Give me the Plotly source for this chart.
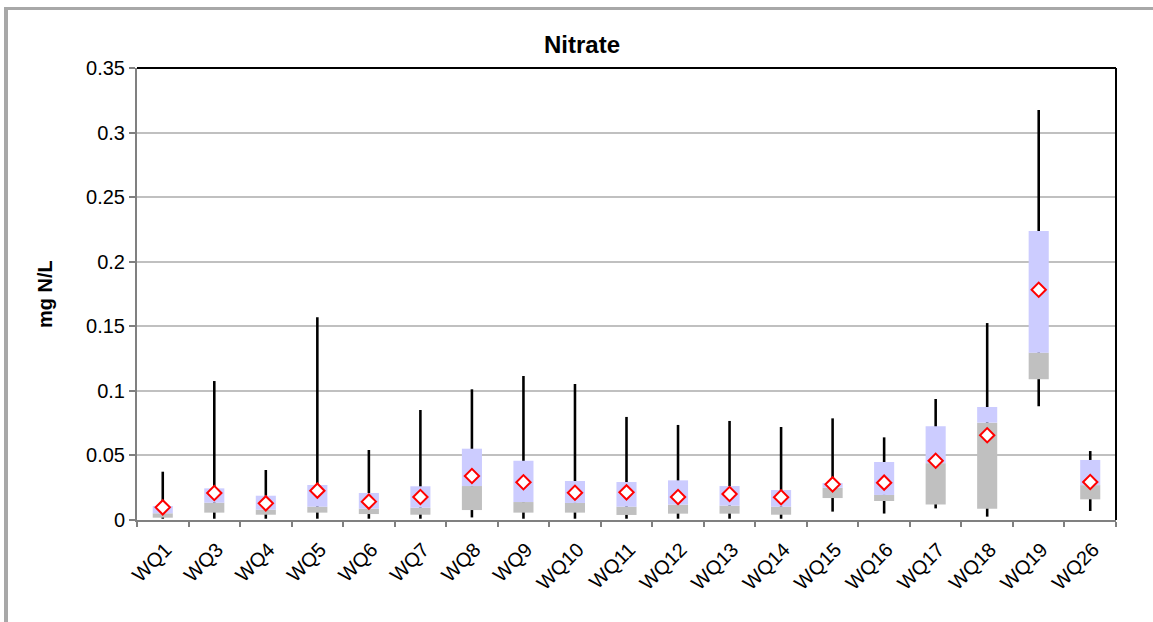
import plotly.graph_objects as go

# Nitrate summary statistics per monitoring site (mg N/L)
sites = ["WQ1", "WQ3", "WQ4", "WQ5", "WQ6", "WQ7", "WQ8", "WQ9", "WQ10", "WQ11",
         "WQ12", "WQ13", "WQ14", "WQ15", "WQ16", "WQ17", "WQ18", "WQ19", "WQ26"]
minimum = [0.001, 0.001, 0.001, 0.001, 0.001, 0.001, 0.002, 0.001, 0.001, 0.001,
           0.001, 0.001, 0.001, 0.0065, 0.005, 0.009, 0.0026, 0.088, 0.007]
q1 = [0.0018, 0.0057, 0.0041, 0.0057, 0.0046, 0.0041, 0.0077, 0.0057, 0.0057, 0.0039,
      0.0049, 0.0049, 0.0041, 0.017, 0.0147, 0.012, 0.0088, 0.109, 0.016]
median = [0.0052, 0.0134, 0.008, 0.0103, 0.0088, 0.0095, 0.0263, 0.0139, 0.0132, 0.0103,
          0.0119, 0.0111, 0.0103, 0.025, 0.0194, 0.044, 0.0754, 0.1296, 0.027]
q3 = [0.0108, 0.0245, 0.0188, 0.0271, 0.0209, 0.0261, 0.0552, 0.0459, 0.0302, 0.0294,
      0.0307, 0.0263, 0.0232, 0.0286, 0.0449, 0.0726, 0.0875, 0.2238, 0.0465]
maximum = [0.0374, 0.1076, 0.0387, 0.157, 0.0542, 0.0852, 0.1012, 0.1115, 0.1053, 0.0798,
           0.0736, 0.0767, 0.072, 0.0787, 0.064, 0.0937, 0.1525, 0.3175, 0.0534]
mean = [0.0098, 0.0209, 0.0129, 0.0227, 0.0142, 0.0178, 0.0341, 0.0292, 0.0211, 0.0214,
        0.0178, 0.0201, 0.0176, 0.0276, 0.0289, 0.0459, 0.0656, 0.1783, 0.0294]

y_ticks = [0, 0.05, 0.1, 0.15, 0.2, 0.25, 0.3, 0.35]

FONT = "Liberation Sans, Arial, sans-serif"

fig = go.Figure()

# whiskers (min to max) drawn as thin bars so the boxes sit on top of them
fig.add_trace(go.Bar(
    x=sites, y=[hi - lo for lo, hi in zip(minimum, maximum)], base=minimum,
    width=0.05, marker=dict(color="black", line=dict(width=0)),
    hoverinfo="skip", showlegend=False))

# lower box: Q1 to median
fig.add_trace(go.Bar(
    x=sites, y=[m - a for a, m in zip(q1, median)], base=q1,
    width=0.39, marker=dict(color="#c0c0c0", line=dict(width=0)),
    hoverinfo="skip", showlegend=False))

# upper box: median to Q3
fig.add_trace(go.Bar(
    x=sites, y=[b - m for m, b in zip(median, q3)], base=median,
    width=0.39, marker=dict(color="#ccccff", line=dict(width=0)),
    hoverinfo="skip", showlegend=False))

# mean markers
fig.add_trace(go.Scatter(
    x=sites, y=mean, mode="markers",
    marker=dict(symbol="diamond", size=11, color="white",
                line=dict(color="#ff0000", width=2)),
    hoverinfo="skip", showlegend=False))

L, R, T, B = 137, 37, 68, 102
W, H = 1153, 622
pw, ph = W - L - R, H - T - B


def px_x(p):
    return (p - L) / pw


def px_y(p):
    return (H - B - p) / ph


fig.update_layout(
    width=W, height=H,
    margin=dict(l=L, r=R, t=T, b=B),
    paper_bgcolor="white", plot_bgcolor="white",
    barmode="overlay",
    font=dict(family=FONT, size=20, color="black"),
    showlegend=False,
    xaxis=dict(
        type="category", tickangle=-45, tickson="boundaries",
        range=[-0.5, len(sites) - 0.5],
        showline=True, linecolor="#808080", linewidth=2,
        ticks="outside", ticklen=5, tickwidth=2, tickcolor="#808080",
        ticklabelstandoff=8, ticklabelshift=3,
        showgrid=False, zeroline=False,
        tickfont=dict(family=FONT, size=20, color="black"),
    ),
    yaxis=dict(
        range=[0, 0.35], tickvals=y_ticks,
        ticktext=[("%g" % v) for v in y_ticks],
        showline=True, linecolor="#808080", linewidth=2,
        ticks="outside", ticklen=6, tickwidth=2, tickcolor="#808080",
        showgrid=True, gridcolor="#c0c0c0", gridwidth=2,
        zeroline=False,
        tickfont=dict(family=FONT, size=20, color="black"),
    ),
    shapes=[
        # black frame on top and right of the plot area
        dict(type="line", xref="paper", yref="paper", x0=0, x1=1, y0=1, y1=1,
             line=dict(color="black", width=2)),
        dict(type="line", xref="paper", yref="paper", x0=1, x1=1, y0=0, y1=1,
             line=dict(color="black", width=2)),
        # outer chart border (left and top)
        dict(type="line", xref="paper", yref="paper",
             x0=px_x(6), x1=px_x(6), y0=px_y(H + 5), y1=px_y(7),
             line=dict(color="#a8a8a8", width=4)),
        dict(type="line", xref="paper", yref="paper",
             x0=px_x(4), x1=px_x(W + 5), y0=px_y(8.5), y1=px_y(8.5),
             line=dict(color="#a8a8a8", width=3)),
    ],
    annotations=[
        dict(text="<b>Nitrate</b>", xref="paper", yref="paper",
             x=px_x(582), y=px_y(45), xanchor="center", yanchor="middle",
             showarrow=False, font=dict(family=FONT, size=24, color="black")),
        dict(text="<b>mg N/L</b>", xref="paper", yref="paper",
             x=px_x(45), y=px_y(294), xanchor="center", yanchor="middle",
             textangle=-90, showarrow=False,
             font=dict(family=FONT, size=20, color="black")),
    ],
)

fig.write_html("out.html")
